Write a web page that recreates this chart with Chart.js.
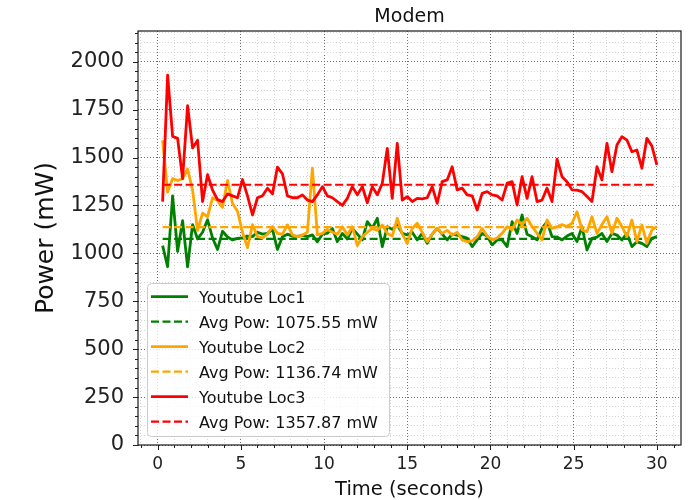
<!DOCTYPE html>
<html>
<head>
<meta charset="utf-8">
<title>Modem</title>
<script src="https://cdn.jsdelivr.net/npm/chart.js@4.4.1/dist/chart.umd.min.js"></script>
<style>
  html, body { margin: 0; padding: 0; background: #fff; }
  #wrap { position: relative; width: 697px; height: 500px; }
</style>
</head>
<body>
<div id="wrap"><canvas id="chart" width="697" height="500"></canvas></div>
<script>
// ------------------------------------------------------
// data
// ------------------------------------------------------
const TIME = [0.3,0.6,0.9,1.2,1.5,1.8,2.1,2.4,2.7,3.0,3.3,3.6,3.9,4.2,4.5,4.8,5.1,5.4,5.7,6.0,
  6.3,6.6,6.9,7.2,7.5,7.8,8.1,8.4,8.7,9.0,9.3,9.6,9.9,10.2,10.5,10.8,11.1,11.4,11.7,12.0,
  12.3,12.6,12.9,13.2,13.5,13.8,14.1,14.4,14.7,15.0,15.3,15.6,15.9,16.2,16.5,16.8,17.1,17.4,17.7,18.0,
  18.3,18.6,18.9,19.2,19.5,19.8,20.1,20.4,20.7,21.0,21.3,21.6,21.9,22.2,22.5,22.8,23.1,23.4,23.7,24.0,
  24.3,24.6,24.9,25.2,25.5,25.8,26.1,26.4,26.7,27.0,27.3,27.6,27.9,28.2,28.5,28.8,29.1,29.4,29.7,30.0];

const LOC1 = [1040,930,1300,1010,1170,930,1150,1075,1110,1175,1080,1020,1115,1085,1070,1078,1080,1090,1087,1110,
  1100,1104,1125,1020,1087,1100,1090,1087,1095,1087,1096,1060,1100,1105,1130,1061,1104,1075,1130,1100,
  1070,1165,1130,1183,1035,1139,1125,1148,1104,1096,1110,1070,1104,1052,1100,1130,1100,1070,1100,1095,
  1087,1080,1035,1070,1104,1090,1044,1070,1070,1035,1165,1104,1200,1100,1087,1070,1130,1165,1087,1085,
  1070,1090,1104,1061,1139,1017,1078,1085,1104,1061,1104,1095,1070,1104,1035,1060,1052,1035,1078,1087];

const LOC2 = [1590,1320,1390,1380,1390,1440,1330,1120,1210,1190,1290,1275,1240,1380,1260,1220,1110,1030,1150,1087,
  1080,1100,1140,1104,1100,1148,1096,1087,1095,1110,1444,1096,1104,1125,1110,1100,1139,1096,1139,1040,
  1087,1110,1130,1120,1148,1104,1090,1183,1100,1052,1130,1157,1110,1061,1100,1130,1104,1120,1095,1110,
  1070,1061,1065,1087,1130,1090,1070,1080,1104,1139,1122,1174,1150,1183,1140,1104,1070,1174,1130,1139,
  1150,1140,1157,1217,1122,1113,1191,1104,1150,1191,1104,1183,1140,1087,1174,1061,1148,1052,1122,1139];

const LOC3 = [1270,1930,1610,1600,1390,1770,1550,1590,1270,1410,1330,1280,1270,1310,1300,1290,1385,1300,1200,1290,
  1300,1340,1310,1450,1415,1300,1290,1290,1305,1278,1270,1305,1348,1300,1290,1270,1250,1287,1348,1305,
  1348,1264,1348,1305,1365,1548,1287,1574,1278,1296,1270,1287,1284,1290,1348,1261,1374,1383,1452,1331,
  1340,1305,1300,1226,1313,1322,1305,1300,1278,1365,1374,1252,1400,1287,1400,1270,1278,1340,1270,1491,
  1400,1374,1331,1330,1322,1296,1270,1452,1383,1574,1426,1565,1609,1591,1530,1539,1444,1600,1560,1461];

const AVG = [1075.55, 1136.74, 1357.87];
const NAMES = ["Youtube Loc1", "Youtube Loc2", "Youtube Loc3"];
const COLORS = ["#008000", "#ffa500", "#ff0000"];

const X_MIN = -1.18, X_MAX = 31.45;
const Y_MIN = 0, Y_MAX = 2160;

const FONT = "'DejaVu Sans', sans-serif";
const MAJOR_GRID = "#6e6e6e";
const MINOR_GRID = "#d4d4d4";

// ------------------------------------------------------
// datasets: line + dashed average per location
// ------------------------------------------------------
function buildDatasets() {
    const series = [LOC1, LOC2, LOC3];
    const out = [];
    let order = 6;
    series.forEach((vals, k) => {
        out.push({
            label: NAMES[k],
            data: TIME.map((t, i) => ({ x: t, y: vals[i] })),
            borderColor: COLORS[k],
            borderWidth: 2.8,
            borderJoinStyle: "round",
            pointRadius: 0,
            tension: 0,
            order: order--
        });
        out.push({
            label: "Avg Pow: " + AVG[k].toFixed(2) + " mW",
            data: [{ x: TIME[0], y: AVG[k] }, { x: TIME[TIME.length - 1], y: AVG[k] }],
            borderColor: COLORS[k],
            borderWidth: 2.2,
            borderDash: [8, 3.5],
            pointRadius: 0,
            order: order--
        });
    });
    return out;
}

// ------------------------------------------------------
// frame, tick marks, titles and legend drawn by hand
// ------------------------------------------------------
const decor = {
    id: "decor",
    afterDraw(chart) {
        const ctx = chart.ctx;
        const a = chart.chartArea;
        const xs = chart.scales.x, ys = chart.scales.y;
        ctx.save();

        // tick marks (major + minor)
        ctx.strokeStyle = "#222";
        ctx.lineWidth = 1;
        ctx.beginPath();
        xs.ticks.forEach(t => {
            if (!Number.isInteger(t.value)) return;
            const px = Math.round(xs.getPixelForValue(t.value)) + 0.5;
            const len = t.value % 5 === 0 ? 5 : 3;
            ctx.moveTo(px, a.bottom);
            ctx.lineTo(px, a.bottom + len);
        });
        ys.ticks.forEach(t => {
            const py = Math.round(ys.getPixelForValue(t.value)) + 0.5;
            const len = t.value % 250 === 0 ? 5 : 3;
            ctx.moveTo(a.left, py);
            ctx.lineTo(a.left - len, py);
        });
        ctx.stroke();

        // legend box
        const lx = a.left + 9, ly = a.top + 252, lw = 242, lh = 153;
        ctx.beginPath();
        ctx.roundRect(lx + 0.5, ly + 0.5, lw, lh, 4);
        ctx.fillStyle = "rgba(255,255,255,0.8)";
        ctx.fill();
        ctx.strokeStyle = "#cccccc";
        ctx.lineWidth = 1;
        ctx.stroke();

        ctx.font = "16px " + FONT;
        ctx.textAlign = "left";
        ctx.textBaseline = "alphabetic";
        for (let i = 0; i < 6; i++) {
            const k = Math.floor(i / 2);
            const dashed = i % 2 === 1;
            const y = ly + 13.7 + i * 25;
            ctx.beginPath();
            ctx.strokeStyle = COLORS[k];
            ctx.lineWidth = dashed ? 2.2 : 2.8;
            ctx.setLineDash(dashed ? [8, 3.5] : []);
            ctx.moveTo(lx + 4, y);
            ctx.lineTo(lx + 41, y);
            ctx.stroke();
            ctx.setLineDash([]);
            ctx.fillStyle = "#111";
            ctx.fillText(dashed ? "Avg Pow: " + AVG[k].toFixed(2) + " mW" : NAMES[k], lx + 52, y + 6.5);
        }

        // frame
        ctx.strokeStyle = "#1a1a1a";
        ctx.lineWidth = 1.2;
        ctx.strokeRect(a.left, a.top, a.right - a.left, a.bottom - a.top);

        // titles
        const cx = (a.left + a.right) / 2;
        ctx.fillStyle = "#111";
        ctx.textAlign = "center";
        ctx.font = "19px " + FONT;
        ctx.fillText("Modem", cx, 22);
        ctx.font = "19.5px " + FONT;
        ctx.fillText("Time (seconds)", cx, 495);

        ctx.translate(53, (a.top + a.bottom) / 2);
        ctx.rotate(-Math.PI / 2);
        ctx.font = "25px " + FONT;
        ctx.fillText("Power (mW)", 0, 0);
        ctx.restore();
    }
};

// ------------------------------------------------------
// chart
// ------------------------------------------------------
function initChart() {
    new Chart(document.getElementById("chart"), {
        type: "line",
        data: { datasets: buildDatasets() },
        options: {
            responsive: false,
            animation: false,
            devicePixelRatio: 1,
            layout: { padding: { left: 0, top: 31, right: 16, bottom: 0 } },
            plugins: { legend: { display: false }, tooltip: { enabled: false }, title: { display: false } },
            scales: {
                x: {
                    type: "linear",
                    min: X_MIN,
                    max: X_MAX,
                    afterFit: s => { s.height = 55; },
                    ticks: {
                        stepSize: 1,
                        autoSkip: false,
                        includeBounds: false,
                        maxRotation: 0,
                        padding: 9,
                        color: "#222",
                        font: { family: FONT, size: 17 },
                        callback: v => (v % 5 === 0 ? String(v) : "")
                    },
                    grid: {
                        drawTicks: false,
                        lineWidth: 1,
                        color: c => (c.tick && c.tick.value % 5 === 0 ? MAJOR_GRID : MINOR_GRID)
                    },
                    border: { display: false, dash: [1, 2] }
                },
                y: {
                    type: "linear",
                    min: Y_MIN,
                    max: Y_MAX,
                    afterFit: s => { s.width = 138; },
                    ticks: {
                        stepSize: 50,
                        autoSkip: false,
                        includeBounds: false,
                        padding: 14,
                        color: "#222",
                        font: { family: FONT, size: 21 },
                        callback: v => (v % 250 === 0 ? String(v) : "")
                    },
                    grid: {
                        drawTicks: false,
                        lineWidth: 1,
                        color: c => (c.tick && c.tick.value % 250 === 0 ? MAJOR_GRID : MINOR_GRID)
                    },
                    border: { display: false, dash: [1, 2] }
                }
            }
        },
        plugins: [decor]
    });
}

window.onload = initChart;
</script>
</body>
</html>
